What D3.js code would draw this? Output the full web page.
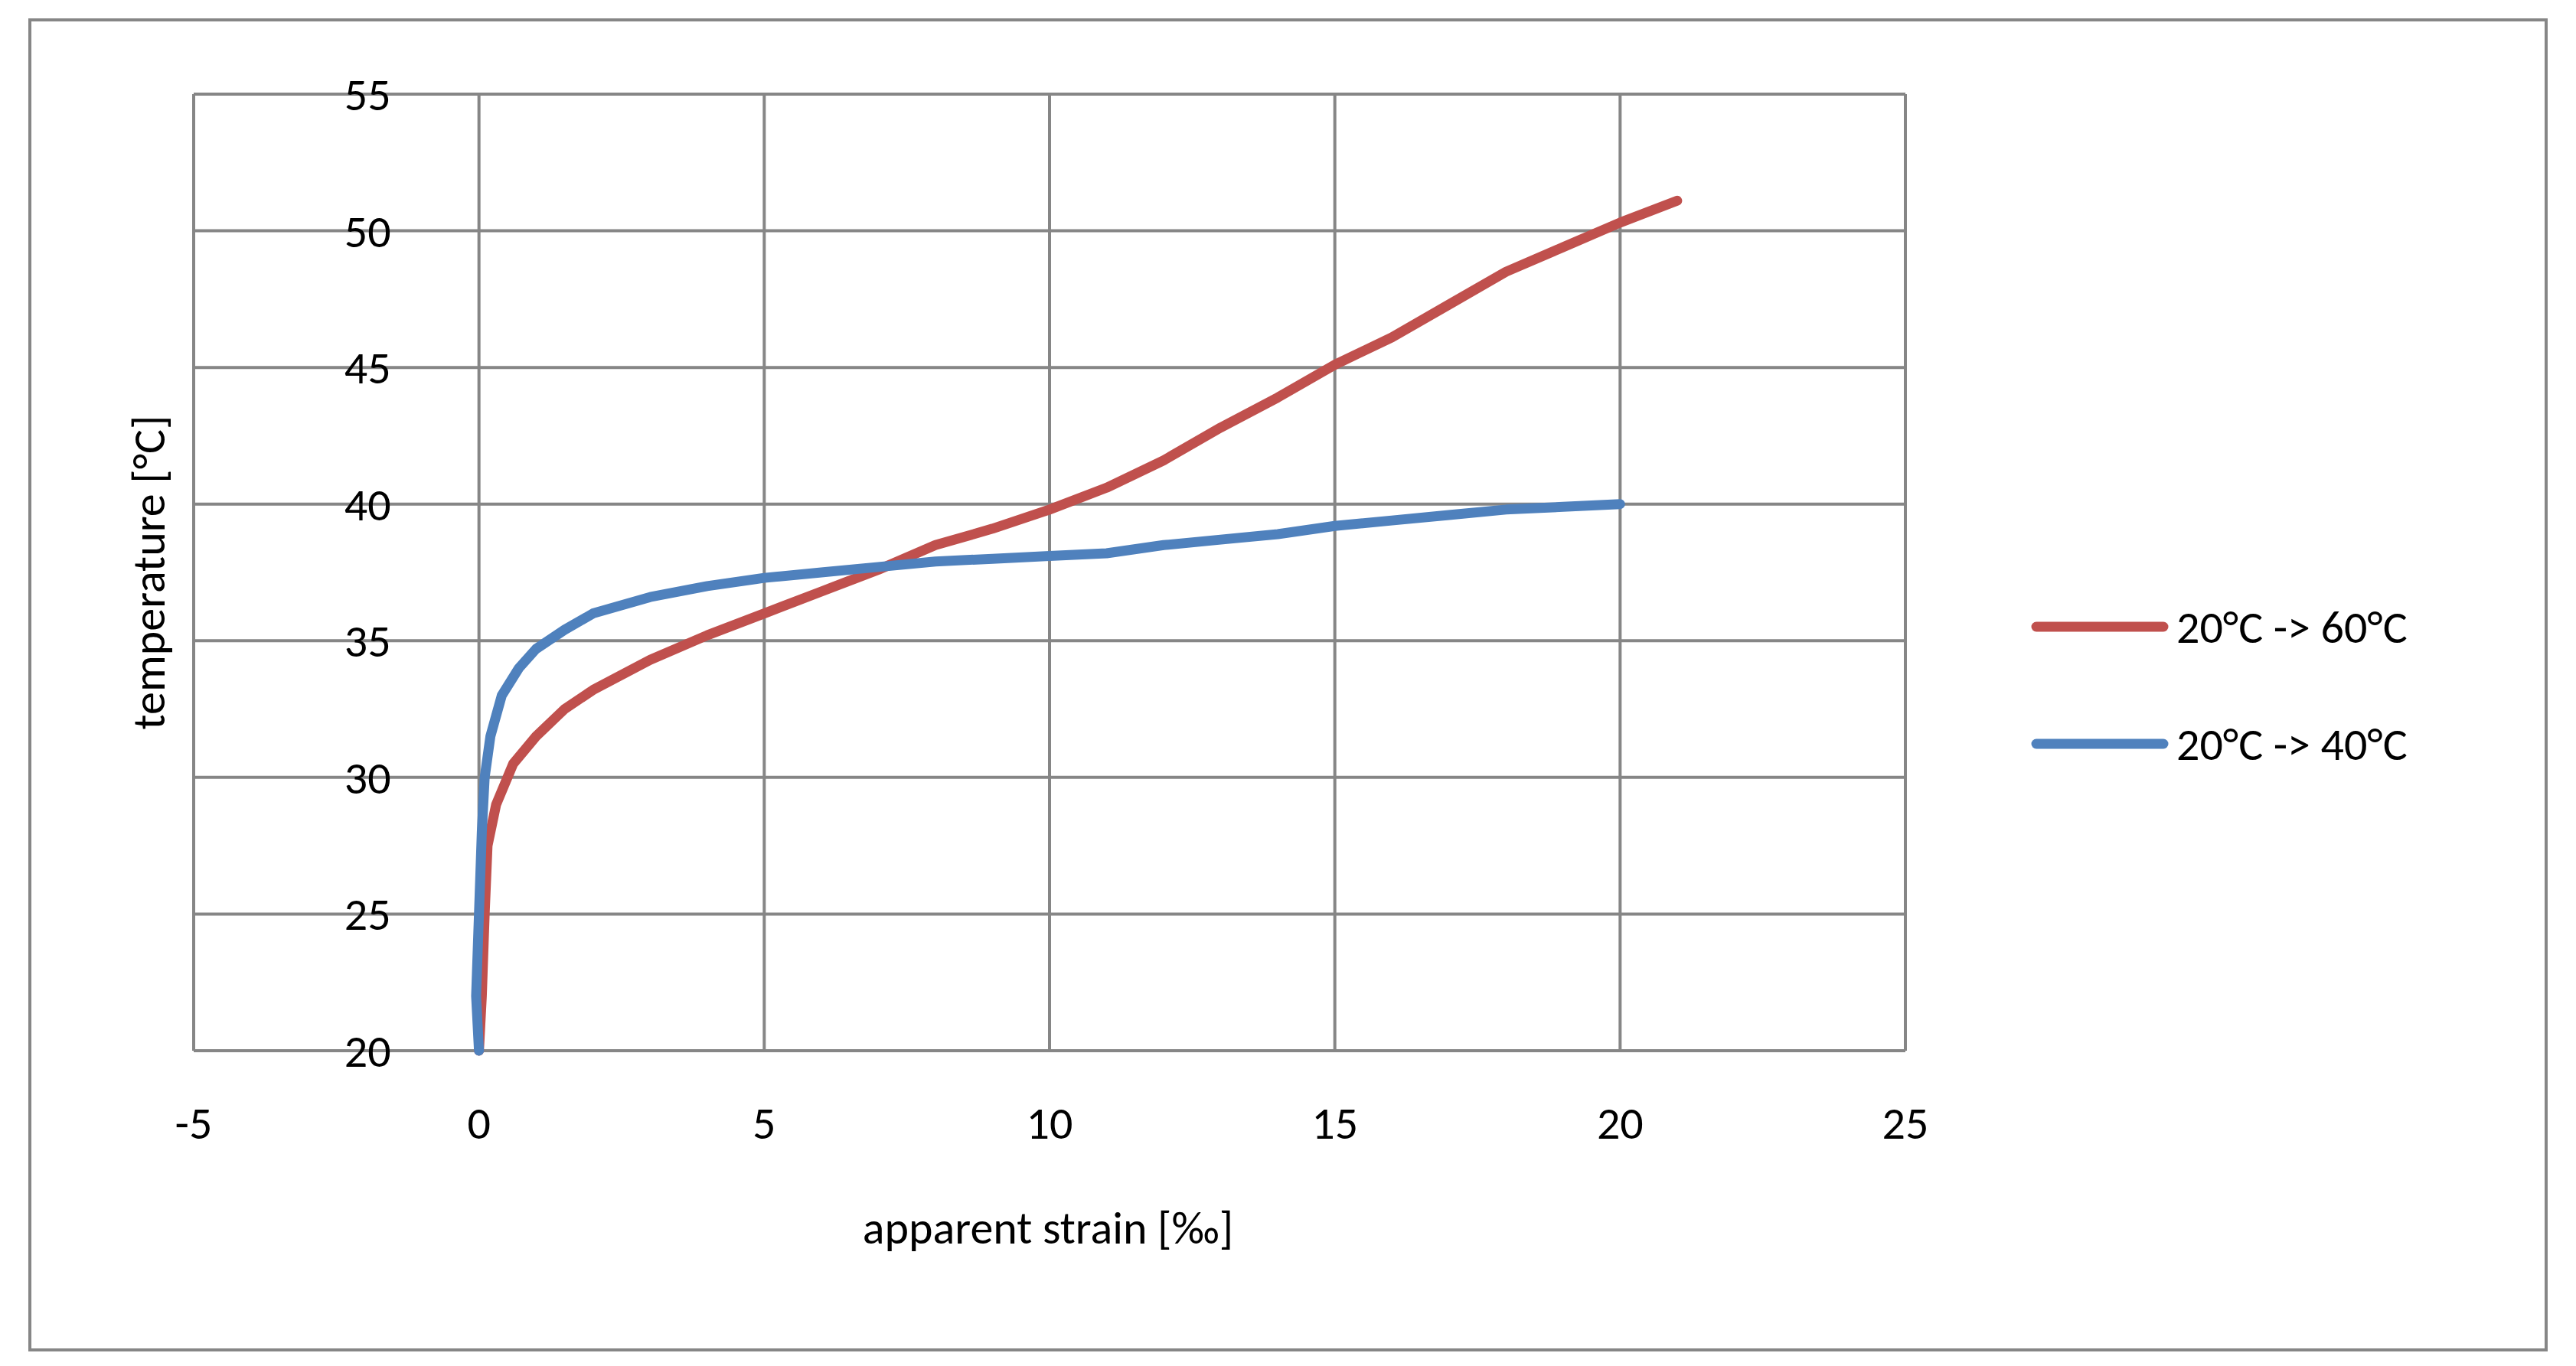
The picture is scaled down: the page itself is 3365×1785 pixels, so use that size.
<!DOCTYPE html>
<html><head><meta charset="utf-8">
<script src="https://cdn.jsdelivr.net/npm/d3@7"></script>
<style>body{margin:0;background:#fff}</style>
</head><body>
<div id="chart"></div>
<script>
const xTicks = [-5, 0, 5, 10, 15, 20, 25]
const yTicks = [20, 25, 30, 35, 40, 45, 50, 55]
const seriesNames = ['20°C -> 60°C', '20°C -> 40°C']
const redStrain = [0,0.05,0.1,0.15,0.3,0.6,1,1.5,2,3,4,5,6,7,8,9,10,11,12,13,14,15,16,17,18,19,20,21]
const redTemp = [20,22,25,27.5,29,30.5,31.5,32.5,33.2,34.3,35.2,36,36.8,37.6,38.5,39.1,39.8,40.6,41.6,42.8,43.9,45.1,46.1,47.3,48.5,49.4,50.3,51.1]
const blueStrain = [0,-0.05,0,0.05,0.1,0.2,0.4,0.7,1,1.5,2,3,4,5,6,7,8,9,10,11,12,13,14,15,16,17,18,19,20]
const blueTemp = [20,22,25,28,30,31.5,33,34,34.7,35.4,36,36.6,37,37.3,37.5,37.7,37.9,38,38.1,38.2,38.5,38.7,38.9,39.2,39.4,39.6,39.8,39.9,40]

const svg = d3.select('#chart').append('svg')
	.attr('width', 3365).attr('height', 1785)

svg.append('rect').attr('x', 39).attr('y', 26).attr('width', 3287).attr('height', 1738)
	.attr('fill', 'white').attr('stroke', '#868686').attr('stroke-width', 4)

let xScale = d3.scaleLinear().domain([-5, 25]).range([253, 2489])
let yScale = d3.scaleLinear().domain([20, 55]).range([1373, 123])

// grid
svg.selectAll('vgrid').data(xTicks).enter().append('line')
	.attr('x1', d => xScale(d)).attr('x2', d => xScale(d))
	.attr('y1', yScale(55)).attr('y2', yScale(20))
	.attr('stroke', '#868686').attr('stroke-width', 4)
svg.selectAll('hgrid').data(yTicks).enter().append('line')
	.attr('x1', xScale(-5)).attr('x2', xScale(25))
	.attr('y1', d => yScale(d)).attr('y2', d => yScale(d))
	.attr('stroke', '#868686').attr('stroke-width', 4)

const font = 'Calibri, Carlito, "Liberation Sans", sans-serif'
svg.selectAll('xlab').data(xTicks).enter().append('text')
	.attr('x', d => xScale(d)).attr('y', yScale(20) + 115)
	.attr('text-anchor', 'middle').attr('font-family', font).attr('font-size', 60)
	.text(d => d)
svg.selectAll('ylab').data(yTicks).enter().append('text')
	.attr('x', xScale(0) - 115).attr('y', d => yScale(d) + 21)
	.attr('text-anchor', 'end').attr('font-family', font).attr('font-size', 60)
	.text(d => d)

svg.append('text').attr('x', 1369).attr('y', 1625).attr('text-anchor', 'middle')
	.attr('font-family', font).attr('font-size', 60).text('apparent strain [‰]')
svg.append('text').attr('transform', 'translate(215,748) rotate(-90)').attr('text-anchor', 'middle')
	.attr('font-family', font).attr('font-size', 60).text('temperature [°C]')

let line = d3.line().x(d => xScale(d[0])).y(d => yScale(d[1]))
const colors = ['#C0504D', '#4F81BD']
const series = [d3.zip(redStrain, redTemp), d3.zip(blueStrain, blueTemp)]
series.forEach(function(s, i){
	svg.append('path').datum(s).attr('d', line)
		.attr('fill', 'none').attr('stroke', colors[i]).attr('stroke-width', 13)
		.attr('stroke-linejoin', 'round').attr('stroke-linecap', 'round')
})

seriesNames.forEach(function(n, i){
	let y = 819 + i * 153
	svg.append('line').attr('x1', 2660).attr('x2', 2826).attr('y1', y).attr('y2', y)
		.attr('stroke', colors[i]).attr('stroke-width', 13).attr('stroke-linecap', 'round')
	svg.append('text').attr('x', 2843).attr('y', y + 21)
		.attr('font-family', font).attr('font-size', 60).text(n)
})
</script>
</body></html>
